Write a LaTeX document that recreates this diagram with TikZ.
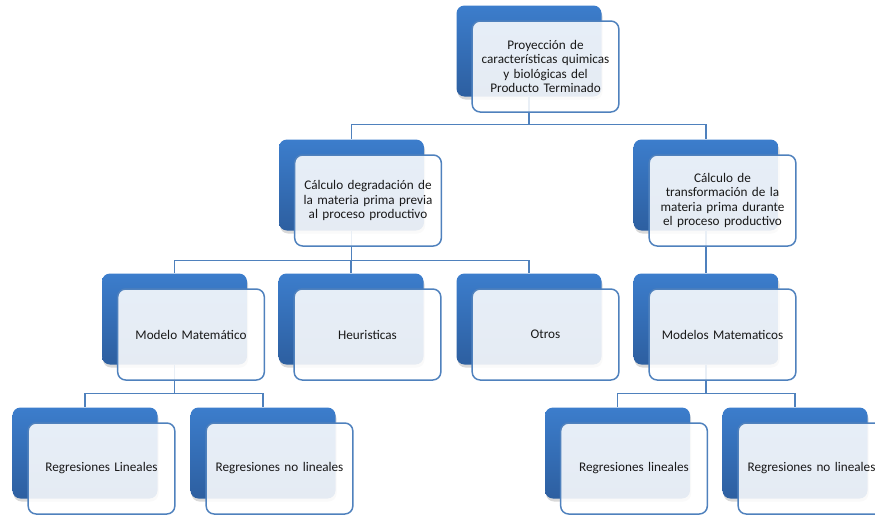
\documentclass[tikz,border=0pt]{standalone}
\usepackage{fontspec}
\setmainfont{Carlito}
\usetikzlibrary{shadows}

\definecolor{azulA}{HTML}{3C7DCC}
\definecolor{azulB}{HTML}{2D5FA0}
\definecolor{borde}{HTML}{4F81BD}

\begin{document}
\begin{tikzpicture}[x=1pt,y=-1pt,
  fondo/.style={rounded corners=8pt, minimum width=145pt, minimum height=91pt,
    top color=azulA, bottom color=azulB,
    drop shadow={shadow xshift=1pt, shadow yshift=-3pt, opacity=0.3}},
  caja/.style={rounded corners=8pt, minimum width=145pt, minimum height=91pt,
    draw=borde, line width=1.5pt, fill=white, fill opacity=0.88, text opacity=1,
    align=center, text width=140pt, text=black!90,
    font=\fontsize{13.2}{14.5}\selectfont},
  enlace/.style={draw=borde, line width=1.4pt}]

\useasboundingbox (0,0) rectangle (875,514);

% Blue back plates of every box
\node[fondo] (proy-b) at (529,51) {};
\node[fondo] (degr-b) at (351.5,185) {};
\node[fondo] (transf-b) at (706,185) {};
\node[fondo] (modelo-b) at (174.5,319) {};
\node[fondo] (heur-b) at (351,319) {};
\node[fondo] (otros-b) at (529,319) {};
\node[fondo] (modelos-b) at (706,319) {};
\node[fondo] (linA-b) at (85,453) {};
\node[fondo] (nolinA-b) at (263,453) {};
\node[fondo] (linB-b) at (617.5,453) {};
\node[fondo] (nolinB-b) at (795,453) {};

% Connectors between the back plates
\draw[enlace] (proy-b.south) -- ++(0,28) -| (degr-b.north);
\draw[enlace] (proy-b.south) -- ++(0,28) -| (transf-b.north);
\draw[enlace] (degr-b.south) -- ++(0,30) -| (modelo-b.north);
\draw[enlace] (degr-b.south) -- ++(0,30) -| (heur-b.north);
\draw[enlace] (degr-b.south) -- ++(0,30) -| (otros-b.north);
\draw[enlace] (transf-b.south) -- (modelos-b.north);
\draw[enlace] (modelo-b.south) -- ++(0,29) -| (linA-b.north);
\draw[enlace] (modelo-b.south) -- ++(0,29) -| (nolinA-b.north);
\draw[enlace] (modelos-b.south) -- ++(0,29) -| (linB-b.north);
\draw[enlace] (modelos-b.south) -- ++(0,29) -| (nolinB-b.north);

% Front boxes with the texts
\node[caja] (proy) at (545.5,66.5) {Proyección de\\características quimicas\\y biológicas del\\Producto Terminado};
\node[caja] (degr) at (368,200.5) {Cálculo degradación de\\la materia prima previa\\al proceso productivo};
\node[caja] (transf) at (722.5,200.5) {Cálculo de\\transformación de la\\materia prima durante\\el proceso productivo};
\node[caja] (modelo) at (191,334.5) {Modelo Matemático};
\node[caja] (heur) at (367.5,334.5) {Heuristicas};
\node[caja] (otros) at (545.5,334.5) {Otros};
\node[caja] (modelos) at (722.5,334.5) {Modelos Matematicos};
\node[caja] (linA) at (101.5,468.5) {Regresiones Lineales};
\node[caja] (nolinA) at (279.5,468.5) {Regresiones no lineales};
\node[caja] (linB) at (634,468.5) {Regresiones lineales};
\node[caja] (nolinB) at (811.5,468.5) {Regresiones no lineales};

\end{tikzpicture}
\end{document}
